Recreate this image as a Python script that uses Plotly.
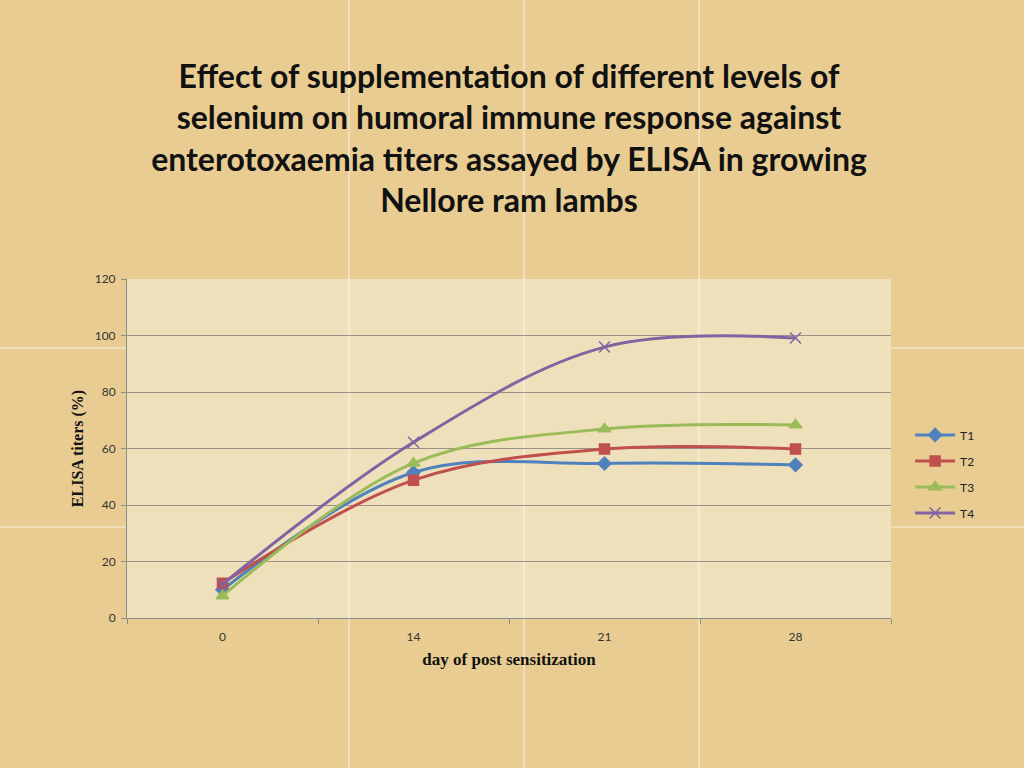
import plotly.graph_objects as go

days = ["0", "14", "21", "28"]
T1 = [10, 51.5, 54.7, 54.2]
T2 = [12.3, 48.8, 59.8, 59.8]
T3 = [7.8, 54.8, 66.9, 68.3]
T4 = [12, 62.2, 95.9, 99.1]

series = [
    ("T1", T1, "#4F81BD", "diamond", 10),
    ("T2", T2, "#C0504D", "square", 10),
    ("T3", T3, "#9BBB59", "triangle-up", 11),
    ("T4", T4, "#8064A2", "x-thin-open", 11),
]

fig = go.Figure()
for name, vals, col, sym, sz in series:
    fig.add_trace(go.Scatter(
        x=days, y=vals, name=name, legendgroup=name, mode="lines+markers",
        line=dict(color=col, width=3, shape="spline", smoothing=1.0),
        marker=dict(symbol=sym, size=sz, color=col, line=dict(color=col, width=1.5)),
    ))

# decorative faint white lines of the papyrus background
shapes = []
for xp in [349, 524, 699]:
    shapes.append(dict(type="line", xref="paper", yref="paper",
                       x0=(xp - 127) / 764, x1=(xp - 127) / 764, y0=-150 / 339, y1=1 + 279 / 339,
                       line=dict(color="rgba(255,255,255,0.7)", width=1), layer="below"))
for yp in [348, 527]:
    for xa, xb in [(0, 127), (891, 1024)]:
        shapes.append(dict(type="line", xref="paper", yref="paper",
                           x0=(xa - 127) / 764, x1=(xb - 127) / 764,
                           y0=(618 - yp) / 339, y1=(618 - yp) / 339,
                           line=dict(color="rgba(255,255,255,0.7)", width=1), layer="below"))

fig.update_layout(
    width=1024, height=768,
    margin=dict(l=127, r=133, t=279, b=150),
    paper_bgcolor="#E8CC92",
    plot_bgcolor="#EFE0BC",
    title=dict(
        text="<b>Effect of supplementation of different levels of<br>selenium on humoral immune response against<br>enterotoxaemia titers assayed by ELISA in growing<br>Nellore ram lambs</b>",
        x=0.5, xref="paper", xanchor="center", y=0.886, yanchor="top",
        font=dict(family="Liberation Sans Narrow, Lato, sans-serif", size=32, color="#111111"),
    ),
    shapes=shapes,
    showlegend=True,
    legend=dict(x=1.025, y=0.425, xanchor="left", yanchor="middle",
                bgcolor="rgba(0,0,0,0)", font=dict(family="Lato, sans-serif", size=12, color="#222222"),
                tracegroupgap=7, itemwidth=40),
    xaxis=dict(
        type="category", range=[-0.5, 3.5], tickson="boundaries",
        ticks="outside", ticklen=5, tickcolor="#8C8C8C", ticklabelstandoff=8,
        showline=True, linecolor="#8C8C8C", linewidth=1, showgrid=False,
        tickfont=dict(family="Lato, sans-serif", size=12, color="#333333"),
        title=dict(text="<b>day of post sensitization</b>", standoff=9,
                   font=dict(family="Liberation Serif, serif", size=17, color="#111111")),
    ),
    yaxis=dict(
        range=[0, 120], dtick=20, ticks="outside", ticklen=5, tickcolor="#8C8C8C",
        ticklabelstandoff=3,
        showline=True, linecolor="#8C8C8C", linewidth=1,
        showgrid=True, gridcolor="#9A9488", gridwidth=1, zeroline=False,
        tickfont=dict(family="Lato, sans-serif", size=12, color="#333333"),
        title=dict(text="<b>ELISA titers (%)</b>", standoff=7,
                   font=dict(family="Liberation Serif, serif", size=16, color="#111111")),
    ),
)

fig.write_html("out.html", config={"displayModeBar": False},
               post_script="document.body.style.margin='0';document.body.style.overflow='hidden';")
